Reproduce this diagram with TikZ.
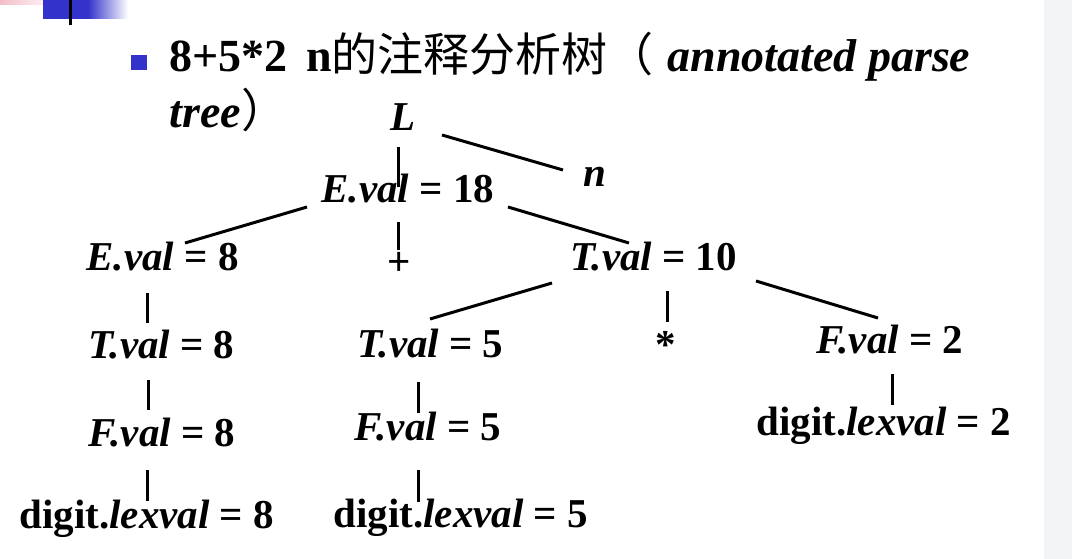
\documentclass[tikz,border=0pt]{standalone}
\usepackage{fontspec}
\setmainfont{Liberation Serif}
\newfontfamily\cjk{Noto Sans CJK SC}
\usepackage{xcolor}
\usetikzlibrary{positioning}
\definecolor{slideblue}{RGB}{51,51,204}
\definecolor{slidepink}{RGB}{244,190,200}
\definecolor{sidegray}{RGB}{243,244,246}
\newcommand{\treefont}{\fontsize{41}{48}\selectfont\bfseries}
\newcommand{\titlefont}{\fontsize{46}{54}\selectfont}

\begin{document}
\begin{tikzpicture}[x=1pt, y=-1pt,
				line width=3pt,
				lbl/.style={anchor=base west, inner sep=0pt, text height=27pt, text depth=0pt, font=\treefont},
				edge/.style={black, line cap=butt}]
				\useasboundingbox (0,0) rectangle (1072,559);
				% slide decoration
				\shade[left color=slidepink, right color=white] (0,0) rectangle (60,5);
				\fill[slideblue] (43,0) rectangle (88,19);
				\shade[left color=slideblue, right color=white] (88,0) rectangle (128,19);
				\draw[black] (70,0) -- (70,25);
				\fill[sidegray] (1044,0) rectangle (1072,559);
				\fill[slideblue] (131,55) rectangle (147,70);
				% title
				\node[anchor=base west, inner sep=0pt, font=\titlefont] at (168,72) (title) {\textbf{8+5*2\hspace{0.4em}n}{\cjk 的注释分析树（}\hspace{0.3em}\textbf{\textit{annotated parse}}};
				\node[anchor=base west, inner sep=0pt, font=\titlefont] at (168,128) (title2) {\textbf{\textit{tree}}{\cjk ）}};
				% tree
				\node[lbl] at (389,131) (L) {\textit{L}};
				\node[lbl] at (582,187) (n) {\textit{n}};
				\node[lbl] at (320,203) (e18) {\textit{E.val} = 18};
				\node[lbl] at (386,276) (plus) {+};
				\node[lbl] at (85,270) (e8) {\textit{E.val} = 8};
				\node[lbl] at (569,270) (t10) {\textit{T.val} = 10};
				\node[lbl] at (87,358) (t8) {\textit{T.val} = 8};
				\node[lbl] at (356,357) (t5) {\textit{T.val} = 5};
				\node[lbl] at (654,358) (star) {*};
				\node[lbl] at (815,353) (f2) {\textit{F.val} = 2};
				\node[lbl] at (87,446) (f8) {\textit{F.val} = 8};
				\node[lbl] at (353,440) (f5) {\textit{F.val} = 5};
				\node[lbl] at (18,528) (d8) {digit.\textit{lexval} = 8};
				\node[lbl] at (332,527) (d5) {digit.\textit{lexval} = 5};
				\node[lbl] at (755,435) (d2) {digit.\textit{lexval} = 2};
				\draw[edge] ([shift={(9,16)}]L.base west) -- ([shift={(78,-16)}]e18.base west);
				\draw[edge] ([shift={(53,4)}]L.base west) -- ([shift={(-19,-17)}]n.base west);
				\draw[edge] ([shift={(-13,4)}]e18.base west) -- ([shift={(100,-27)}]e8.base west);
				\draw[edge] ([shift={(78,19)}]e18.base west) -- ([shift={(12,-26)}]plus.base west);
				\draw[edge] ([shift={(188,4)}]e18.base west) -- ([shift={(60,-27)}]t10.base west);
				\draw[edge] ([shift={(62,23)}]e8.base west) -- ([shift={(60,-35)}]t8.base west);
				\draw[edge] ([shift={(-17,13)}]t10.base west) -- ([shift={(74,-38)}]t5.base west);
				\draw[edge] ([shift={(98,21)}]t10.base west) -- ([shift={(13,-36)}]star.base west);
				\draw[edge] ([shift={(187,11)}]t10.base west) -- ([shift={(63,-35)}]f2.base west);
				\draw[edge] ([shift={(61,22)}]t8.base west) -- ([shift={(61,-36)}]f8.base west);
				\draw[edge] ([shift={(60,24)}]f8.base west) -- ([shift={(129,-27)}]d8.base west);
				\draw[edge] ([shift={(62,25)}]t5.base west) -- ([shift={(65,-27)}]f5.base west);
				\draw[edge] ([shift={(65,30)}]f5.base west) -- ([shift={(86,-25)}]d5.base west);
				\draw[edge] ([shift={(77,21)}]f2.base west) -- ([shift={(137,-30)}]d2.base west);
			\end{tikzpicture}
\end{document}
